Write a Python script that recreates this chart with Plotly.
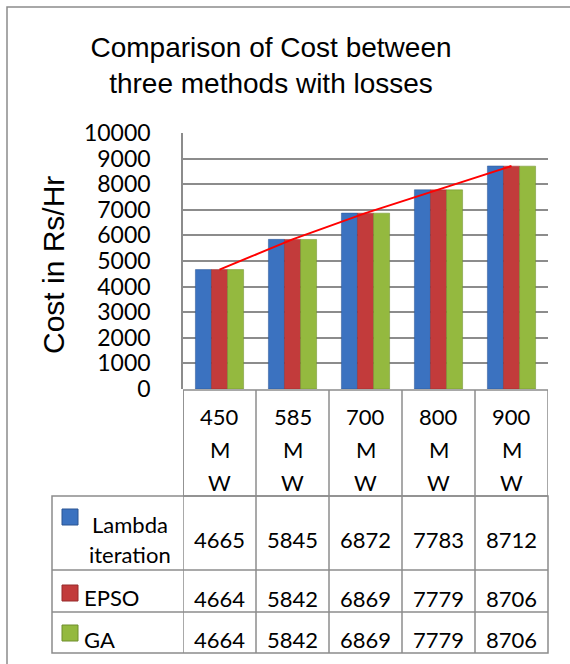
import plotly.graph_objects as go

# ---- data ----
categories = ["450 MW", "585 MW", "700 MW", "800 MW", "900 MW"]
header_lines = [["450", "M", "W"], ["585", "M", "W"], ["700", "M", "W"], ["800", "M", "W"], ["900", "M", "W"]]
series_names = ["Lambda iteration", "EPSO", "GA"]
lambda_vals = [4665, 5845, 6872, 7783, 8712]
epso_vals = [4664, 5842, 6869, 7779, 8706]
ga_vals = [4664, 5842, 6869, 7779, 8706]
y_ticks = [0, 1000, 2000, 3000, 4000, 5000, 6000, 7000, 8000, 9000, 10000]

colors = ["#3b72c0", "#c23b3b", "#94b93f"]
edge = ["#2a5592", "#962a2a", "#6f8e2c"]
grid = "#8c8c8c"

W, H = 570, 664
L, R, T, B = 183, 548, 133, 389


def px(x):
    return (x - L) / (R - L)


def py(y):
    return (B - y) / (B - T)


fig = go.Figure()
for name, vals, c, e in zip(series_names, [lambda_vals, epso_vals, ga_vals], colors, edge):
    fig.add_trace(go.Bar(x=categories, y=vals, name=name, marker=dict(color=c, line=dict(color=e, width=0.5))))

fig.add_trace(go.Scatter(x=categories, y=lambda_vals, mode="lines", line=dict(color="#ff0000", width=2), showlegend=False))

shapes = []
annotations = []
line_style = dict(color=grid, width=1.5)

# outer border
shapes.append(dict(type="rect", xref="paper", yref="paper", x0=px(7), x1=px(600), y0=py(7), y1=py(700),
                   line=line_style, layer="below"))

# header row of data table
shapes.append(dict(type="rect", xref="x", yref="paper", x0=-0.5, x1=len(categories) - 0.5, y0=py(390), y1=py(496),
                   line=line_style))
# body of data table
shapes.append(dict(type="rect", xref="paper", yref="paper", x0=px(52), x1=1, y0=py(496), y1=py(653),
                   line=line_style))
for yy in [570, 612]:
    shapes.append(dict(type="line", xref="paper", yref="paper", x0=px(52), x1=1, y0=py(yy), y1=py(yy), line=line_style))
for i in range(len(categories)):
    shapes.append(dict(type="line", xref="x", yref="paper", x0=i - 0.5, x1=i - 0.5, y0=py(390), y1=py(653),
                       line=line_style))

tfont = dict(family="Lato", size=22, color="#000000")
for i, lines in enumerate(header_lines):
    for j, t in enumerate(lines):
        annotations.append(dict(x=categories[i], xref="x", yref="paper", y=py(416 + 33 * j), text=t,
                                showarrow=False, font=tfont, xanchor="center", yanchor="middle"))

row_y = [539, 598, 639]
for vals, yy in zip([lambda_vals, epso_vals, ga_vals], row_y):
    for i, v in enumerate(vals):
        annotations.append(dict(x=categories[i], xref="x", yref="paper", y=py(yy), text=str(v),
                                showarrow=False, font=tfont, xanchor="center", yanchor="middle"))

# row labels + legend keys
annotations.append(dict(x=px(130), xref="paper", yref="paper", y=py(524), text="Lambda", showarrow=False,
                        font=tfont, xanchor="center", yanchor="middle"))
annotations.append(dict(x=px(130), xref="paper", yref="paper", y=py(554), text="iteration", showarrow=False,
                        font=tfont, xanchor="center", yanchor="middle"))
annotations.append(dict(x=px(82), xref="paper", yref="paper", y=py(597), text=series_names[1], showarrow=False,
                        font=tfont, xanchor="left", yanchor="middle"))
annotations.append(dict(x=px(82), xref="paper", yref="paper", y=py(639), text=series_names[2], showarrow=False,
                        font=tfont, xanchor="left", yanchor="middle"))
for (y0, y1), c, e in zip([(509, 525), (585, 601), (625, 641)], colors, edge):
    shapes.append(dict(type="rect", xref="paper", yref="paper", x0=px(62), x1=px(78), y0=py(y0), y1=py(y1),
                       fillcolor=c, line=dict(color=e, width=1)))

# y axis title
annotations.append(dict(x=px(53), xref="paper", yref="paper", y=py(265), text="Cost in Rs/Hr", textangle=-90,
                        showarrow=False, font=dict(family="Liberation Sans", size=30, color="#000000"),
                        xanchor="center", yanchor="middle"))

fig.update_layout(
    width=W, height=H,
    margin=dict(l=L, r=W - R, t=T, b=H - B, pad=0),
    paper_bgcolor="white", plot_bgcolor="white",
    barmode="group", bargap=0.34, bargroupgap=0,
    showlegend=False,
    title=dict(text="Comparison of Cost between<br>three methods with losses", xref="container", yref="container",
               x=271 / W, y=1 - 57 / H, xanchor="center", yanchor="middle",
               font=dict(family="Liberation Sans", size=28, color="#000000")),
    shapes=shapes, annotations=annotations,
)
fig.update_xaxes(showticklabels=False, showgrid=False, zeroline=False, showline=False, ticks="",
                 range=[-0.5, len(categories) - 0.5])
fig.update_yaxes(range=[0, 10000], tickvals=y_ticks, ticktext=[str(v) for v in y_ticks],
                 showgrid=True, gridcolor=grid, gridwidth=1.5,
                 zeroline=False, showline=True, linecolor=grid, linewidth=1.5, ticks="",
                 ticklabelstandoff=26, tickfont=dict(family="Lato", size=23, color="#000000"))

fig.write_html("out.html", config={"displayModeBar": False},
               post_script="document.body.style.margin='0';")
